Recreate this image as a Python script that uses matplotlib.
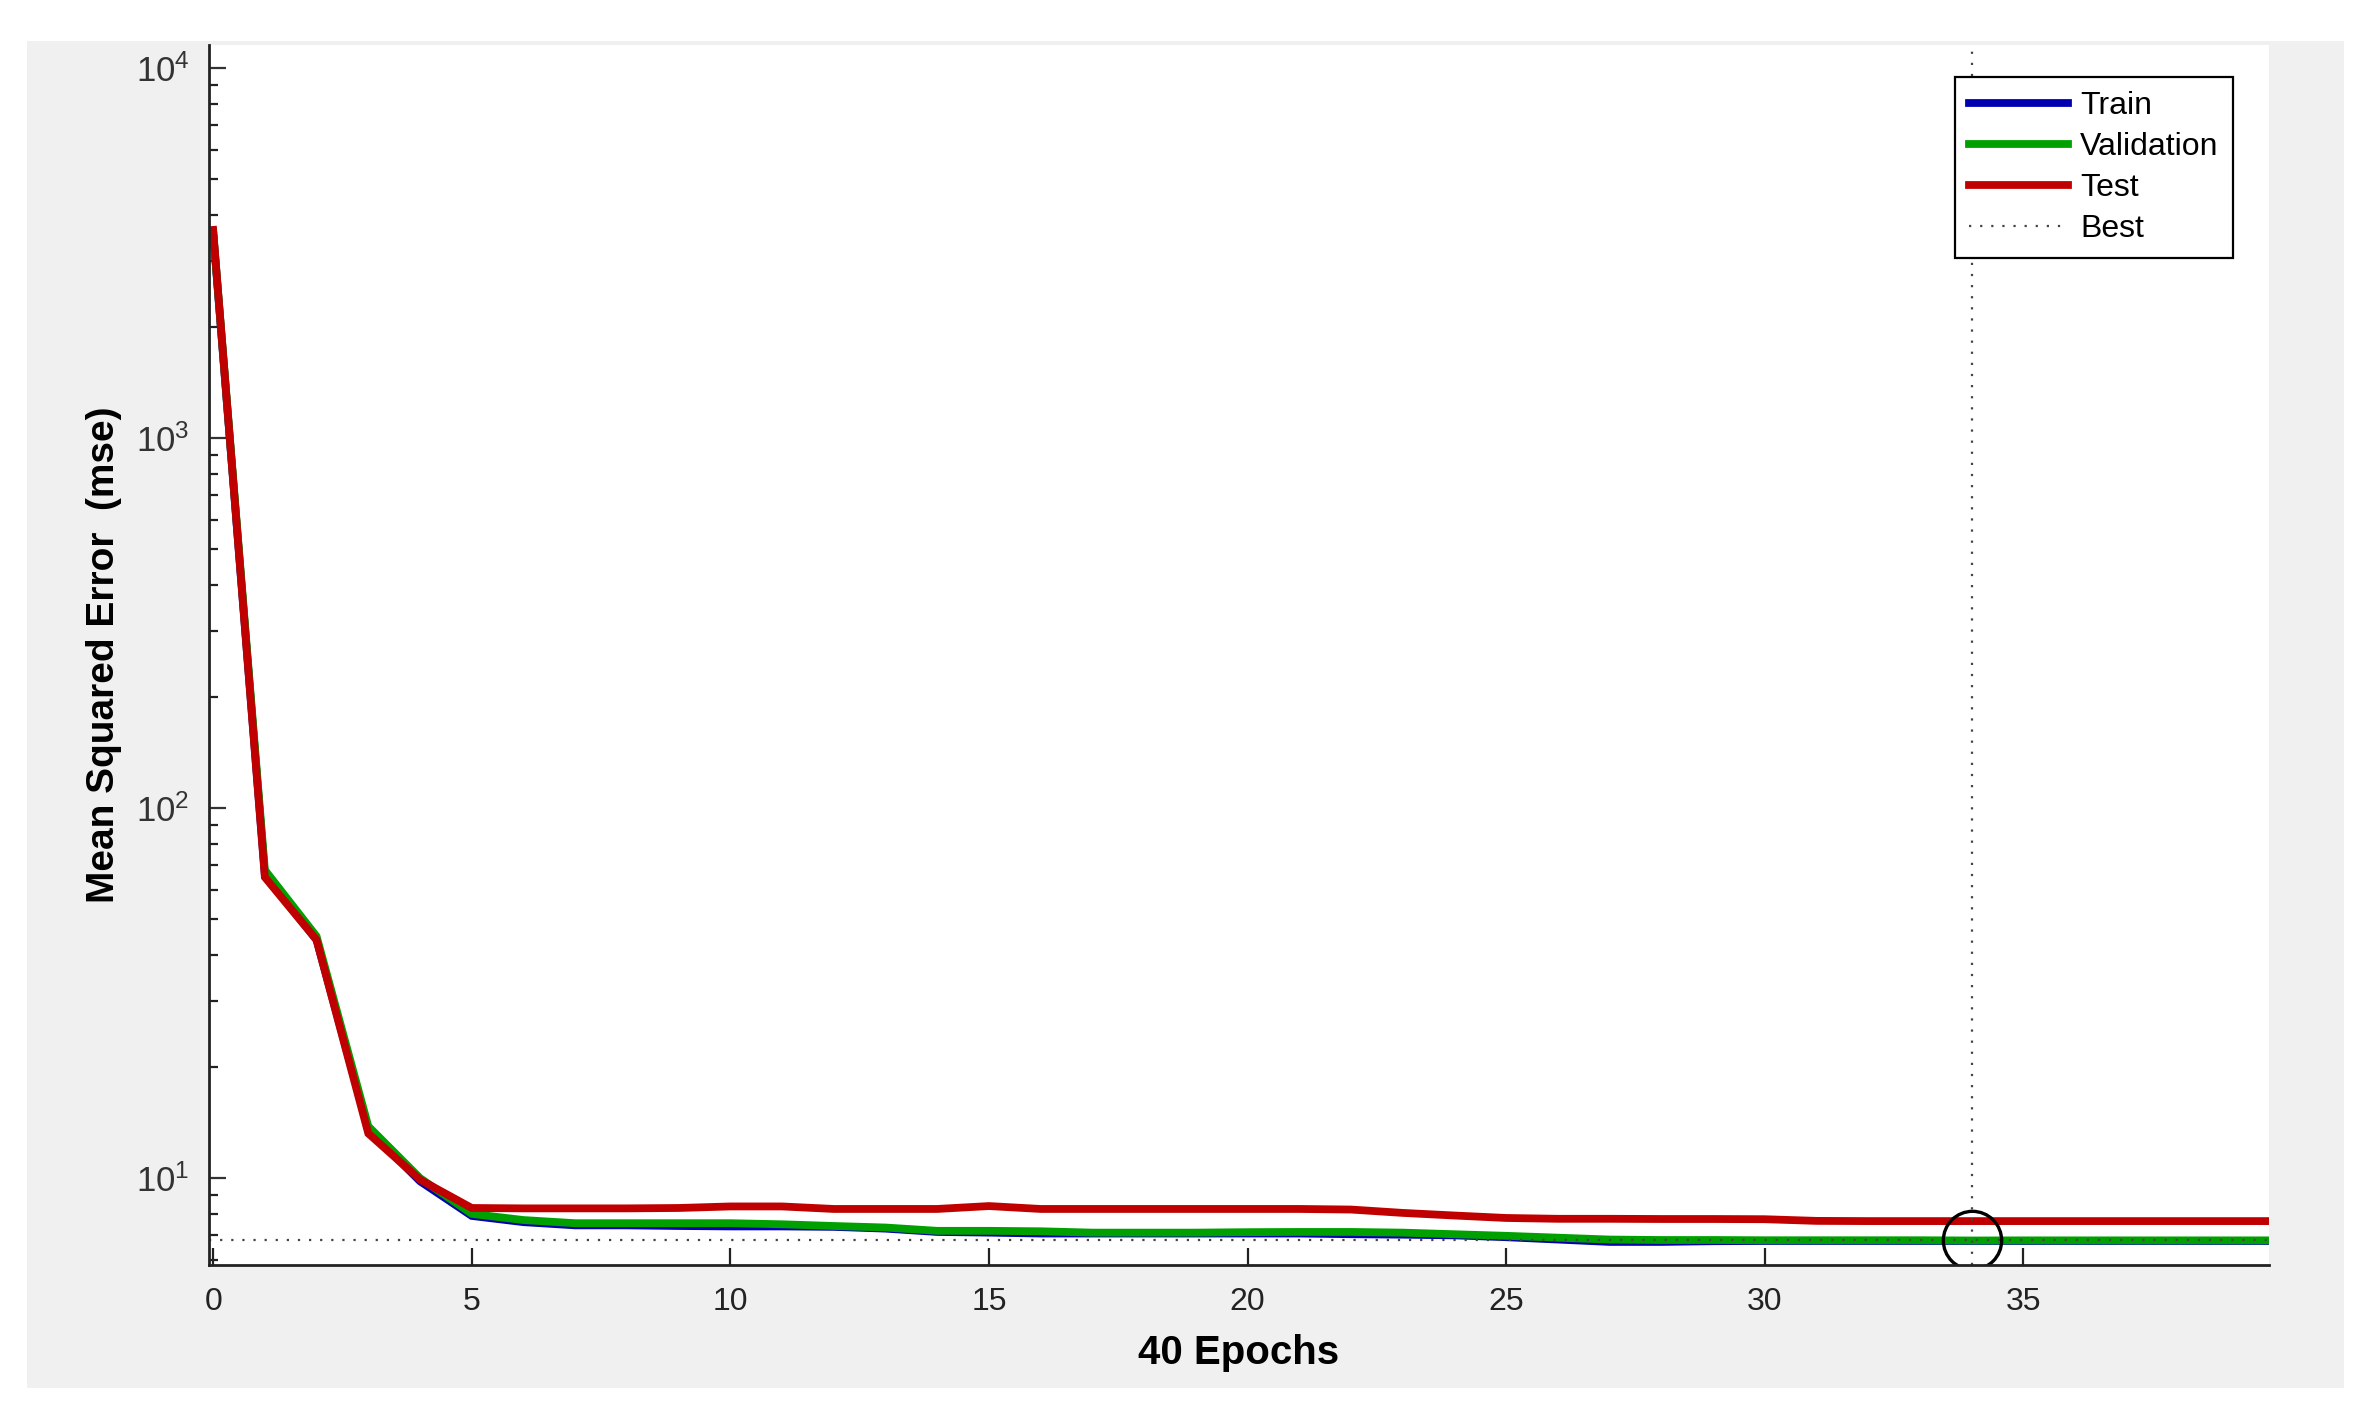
import numpy as np
import matplotlib
matplotlib.use("Agg")
import matplotlib.pyplot as plt
from matplotlib.patches import Rectangle
from matplotlib.ticker import FixedLocator, LogLocator, FuncFormatter, NullFormatter

plt.rcParams['font.family'] = ['Liberation Sans', 'DejaVu Sans']
plt.rcParams['mathtext.default'] = 'regular'

# performance per epoch (mse)
epochs = list(range(0, 41))
train_mse = [3600, 66, 44, 13.5, 9.8, 7.9, 7.6, 7.45, 7.45, 7.42,
             7.4, 7.4, 7.38, 7.3, 7.15, 7.12, 7.08, 7.08, 7.08, 7.08,
             7.08, 7.08, 7.05, 7.03, 7.0, 6.92, 6.82, 6.72, 6.72, 6.75,
             6.76, 6.76, 6.76, 6.76, 6.76, 6.76, 6.76, 6.76, 6.76, 6.76, 6.76]
val_mse = [3620, 68, 45, 13.8, 10.0, 8.0, 7.7, 7.55, 7.55, 7.55,
           7.55, 7.5, 7.42, 7.35, 7.2, 7.2, 7.18, 7.12, 7.12, 7.12,
           7.14, 7.15, 7.15, 7.12, 7.05, 6.98, 6.9, 6.82, 6.8, 6.8,
           6.79, 6.79, 6.79, 6.79, 6.78, 6.785, 6.785, 6.785, 6.785, 6.785, 6.785]
test_mse = [3650, 65, 44, 13.2, 9.9, 8.3, 8.28, 8.28, 8.28, 8.3,
            8.38, 8.38, 8.25, 8.25, 8.25, 8.4, 8.25, 8.25, 8.25, 8.25,
            8.25, 8.25, 8.22, 8.05, 7.92, 7.8, 7.76, 7.76, 7.75, 7.75,
            7.74, 7.66, 7.65, 7.65, 7.65, 7.65, 7.65, 7.65, 7.65, 7.65, 7.65]
best_epoch = 34
best_mse = val_mse[best_epoch]
n_epochs = 40

W, H = 2374, 1427
fig = plt.figure(figsize=(W / 100, H / 100), dpi=100)
fig.patch.set_facecolor('white')
# gray figure panel like the MATLAB window
fig.add_artist(Rectangle((27 / W, 1 - 1388 / H), (2344 - 27) / W, (1388 - 41) / H,
                         transform=fig.transFigure, facecolor='#f0f0f0',
                         edgecolor='none', zorder=-10))

ax = fig.add_axes([209 / W, 1 - 1265 / H, (2269 - 209) / W, (1265 - 45) / H])
ax.set_facecolor('white')

lw = 5.6
ax.plot(epochs, train_mse, color='#0000b0', lw=lw, label='Train', solid_joinstyle='miter')
ax.plot(epochs, val_mse, color='#00a000', lw=lw, label='Validation', solid_joinstyle='miter')
ax.plot(epochs, test_mse, color='#c00000', lw=lw, label='Test', solid_joinstyle='miter')
ax.axhline(best_mse, color='#444444', lw=1.6, ls=(0, (1, 4)), label='Best')
ax.axvline(best_epoch, color='#444444', lw=1.6, ls=(0, (1, 4)))
ax.plot([best_epoch], [best_mse], 'o', ms=42, mfc='none', mec='black', mew=2.4)

ax.set_yscale('log')
ax.set_xlim(-0.08, 39.75)
ax.set_ylim(10 ** 0.765, 10 ** 4.062)

ax.xaxis.set_major_locator(FixedLocator([0, 5, 10, 15, 20, 25, 30, 35]))
ax.yaxis.set_major_locator(LogLocator(base=10))
ax.yaxis.set_minor_locator(LogLocator(base=10, subs=np.arange(2, 10)))
ax.yaxis.set_minor_formatter(NullFormatter())
ax.yaxis.set_major_formatter(FuncFormatter(lambda v, p: r'$10^{%d}$' % round(np.log10(v))))

for s in ['top', 'right']:
    ax.spines[s].set_visible(False)
for s in ['left', 'bottom']:
    ax.spines[s].set_linewidth(2)
    ax.spines[s].set_color('#222222')

ax.tick_params(axis='x', which='major', direction='in', length=12, width=1.6,
               labelsize=23, colors='#222222', pad=16)
ax.tick_params(axis='y', which='major', direction='in', length=12, width=1.6,
               labelsize=25, colors='#333333', pad=14)
ax.tick_params(axis='y', which='minor', direction='in', length=6.5, width=1.6,
               colors='#222222')
ax.tick_params(axis='x', which='minor', bottom=False)

ax.set_xlabel('%d Epochs' % n_epochs, fontsize=29, fontweight='bold', labelpad=12)
ax.set_ylabel('Mean Squared Error  (mse)', fontsize=28, fontweight='bold', labelpad=10)

leg = ax.legend(loc='upper right', bbox_to_anchor=(2233 / W, 1 - 77 / H),
                bbox_transform=fig.transFigure, fontsize=23, frameon=True,
                fancybox=False, edgecolor='black', framealpha=1,
                handlelength=3.1, handletextpad=0.38, labelspacing=0.34,
                borderpad=0.45, borderaxespad=0)
leg.get_frame().set_linewidth(1.6)

fig.savefig('out.png', dpi=100)
